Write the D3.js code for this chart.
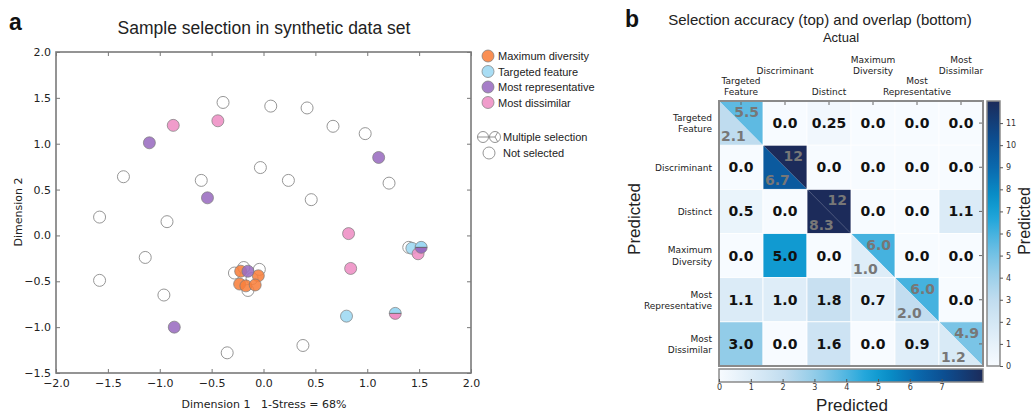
<!DOCTYPE html>
<meta charset="utf-8">
<style>
	body { margin: 0; background: #fff; }
	.vis { width: 1033px; height: 414px; }
	.sans { font-family: "Liberation Sans", Arial, sans-serif; }
	.dv { font-family: "DejaVu Sans", sans-serif; }
</style>

<div class="vis"></div>

<script src="https://d3js.org/d3.v7.min.js"></script>
<script>

	// ---- //
	// Data //
	// ---- //

	// panel a: scatter (Dimension 1, Dimension 2)
	const scatterTicksX = [-2, -1.5, -1, -0.5, 0, 0.5, 1, 1.5, 2];
	const scatterTicksY = [-1.5, -1, -0.5, 0, 0.5, 1, 1.5, 2];

	const notSelected = [
		[-0.39, 1.45], [0.07, 1.41], [0.42, 1.39], [0.67, 1.19], [0.98, 1.11],
		[1.21, 0.57], [-1.35, 0.64], [-0.60, 0.60], [-0.03, 0.74], [0.24, 0.60],
		[0.46, 0.39], [-1.58, 0.20], [-0.93, 0.15], [-1.14, -0.24], [-1.58, -0.49],
		[-0.96, -0.65], [-0.35, -1.28], [0.38, -1.20], [1.40, -0.13],
		[-0.28, -0.41], [-0.19, -0.35], [-0.04, -0.37], [-0.15, -0.60], [-0.11, -0.47]
	];
	const maxDiversity = [[-0.22, -0.39], [-0.05, -0.44], [-0.23, -0.53], [-0.17, -0.55], [-0.08, -0.54]];
	const targetedFeature = [[0.80, -0.88], [1.43, -0.14]];
	const mostRepresentative = [[-1.10, 1.01], [-0.54, 0.41], [1.11, 0.85], [-0.86, -1.00], [-0.15, -0.39]];
	const mostDissimilar = [[-0.87, 1.20], [-0.44, 1.25], [0.82, 0.02], [0.84, -0.36], [1.49, -0.20]];
	// points picked by two methods: [x, y, top half, bottom half]
	const multipleSelection = [[1.27, -0.85, "targeted", "dissimilar"], [1.52, -0.13, "targeted", "representative"]];

	const legendLabels = ["Maximum diversity", "Targeted feature", "Most representative", "Most dissimilar"];
	const legendKeys = ["diversity", "targeted", "representative", "dissimilar"];

	// panel b: heat map
	const classNames = [["Targeted", "Feature"], ["Discriminant"], ["Distinct"], ["Maximum", "Diversity"], ["Most", "Representative"], ["Most", "Dissimilar"]];
	const overlap = [
		[2.1, 0.0, 0.25, 0.0, 0.0, 0.0],
		[0.0, 6.7, 0.0, 0.0, 0.0, 0.0],
		[0.5, 0.0, 8.3, 0.0, 0.0, 1.1],
		[0.0, 5.0, 0.0, 1.0, 0.0, 0.0],
		[1.1, 1.0, 1.8, 0.7, 2.0, 0.0],
		[3.0, 0.0, 1.6, 0.0, 0.9, 1.2]
	];
	const accuracy = [5.5, 12, 12, 6.0, 6.0, 4.9];
	const overlapMax = 8.3;
	const accuracyMax = 12;
	const overlapTicks = [0, 1, 2, 3, 4, 5, 6, 7];
	const accuracyTicks = [0, 1, 2, 3, 4, 5, 6, 7, 8, 9, 10, 11];


	// ----- //
	// Setup //
	// ----- //

	const colors = {
		diversity: "#f8803c",
		targeted: "#9dd8f3",
		representative: "#9a6cc0",
		dissimilar: "#ee8ec4"
	};

	// white -> cyan blue -> navy colour map
	const cmap = d3.scaleLinear()
		.domain([0, 0.12, 0.25, 0.37, 0.48, 0.56, 0.63, 0.74, 0.86, 1])
		.range(["#f7fbff", "#deedf8", "#c0dcef", "#8fcbe8", "#52b6e1", "#1ea5da", "#0993cb", "#0a6cb0", "#0c4c8f", "#1c2b5a"])
		.clamp(true);

	let svg = d3.select(".vis").append("svg")
		.attr("width", 1033)
		.attr("height", 414);

	// ------- //
	// Panel a //
	// ------- //

	let x = d3.scaleLinear().domain([-2, 2]).range([56, 471]);
	let y = d3.scaleLinear().domain([-1.5, 2]).range([373, 52]);
	let fmt1 = d3.format(".1f");

	svg.append("text")
		.attr("class", "sans")
		.attr("x", 9).attr("y", 30)
		.style("font-size", "23px").style("font-weight", 700)
		.attr("fill", "#111")
		.text("a");

	svg.append("text")
		.attr("class", "sans")
		.attr("x", 264).attr("y", 34)
		.attr("text-anchor", "middle")
		.style("font-size", "17.5px")
		.attr("fill", "#222")
		.text("Sample selection in synthetic data set");

	function styleAxis(g) {
		g.select(".domain").remove();
		g.selectAll(".tick line").attr("stroke", "#777");
		g.selectAll(".tick text")
			.attr("fill", "#222")
			.style("font-family", "'DejaVu Sans', sans-serif")
			.style("font-size", "11px");
	}

	svg.append("g")
		.attr("transform", "translate(0,373)")
		.call(d3.axisBottom(x).tickValues(scatterTicksX).tickFormat(fmt1).tickSizeInner(-4).tickSizeOuter(0).tickPadding(6))
		.call(styleAxis);
	svg.append("g")
		.attr("transform", "translate(56,0)")
		.call(d3.axisLeft(y).tickValues(scatterTicksY).tickFormat(fmt1).tickSizeInner(-4).tickSizeOuter(0).tickPadding(5))
		.call(styleAxis);
	svg.append("g")
		.attr("transform", "translate(0,52)")
		.call(d3.axisTop(x).tickValues(scatterTicksX).tickFormat("").tickSizeInner(-4).tickSizeOuter(0))
		.call(styleAxis);
	svg.append("g")
		.attr("transform", "translate(471,0)")
		.call(d3.axisRight(y).tickValues(scatterTicksY).tickFormat("").tickSizeInner(-4).tickSizeOuter(0))
		.call(styleAxis);

	// frame
	svg.append("rect")
		.attr("x", x(-2)).attr("y", y(2))
		.attr("width", x(2) - x(-2)).attr("height", y(-1.5) - y(2))
		.attr("fill", "none").attr("stroke", "#7a7a7a").attr("stroke-width", 1.6);

	// axis labels
	svg.append("text")
		.attr("class", "dv")
		.attr("x", 264).attr("y", 408)
		.attr("text-anchor", "middle")
		.style("font-size", "11px").style("white-space", "pre")
		.attr("fill", "#222")
		.text("Dimension 1   1-Stress = 68%");
	svg.append("text")
		.attr("class", "dv")
		.attr("transform", "rotate(-90)")
		.attr("x", -212).attr("y", 22)
		.attr("text-anchor", "middle")
		.style("font-size", "11px")
		.attr("fill", "#222")
		.text("Dimension 2");

	const R = 6;
	let dots = svg.append("g");

	dots.selectAll(".ns").data(notSelected).enter().append("circle")
		.attr("cx", d => x(d[0])).attr("cy", d => y(d[1])).attr("r", R)
		.attr("fill", "#fff").attr("fill-opacity", 0.6)
		.attr("stroke", "#8a8a8a").attr("stroke-width", 0.9);

	function drawGroup(data, key) {
		dots.selectAll(".p-" + key).data(data).enter().append("circle")
			.attr("cx", d => x(d[0])).attr("cy", d => y(d[1])).attr("r", R)
			.attr("fill", colors[key]).attr("fill-opacity", 0.88)
			.attr("stroke", "#7a7a7a").attr("stroke-width", 0.7);
	}
	drawGroup(maxDiversity, "diversity");
	drawGroup(targetedFeature, "targeted");
	drawGroup(mostDissimilar, "dissimilar");
	drawGroup(mostRepresentative, "representative");

	let halfTop = d3.arc().innerRadius(0).outerRadius(R).startAngle(-Math.PI / 2).endAngle(Math.PI / 2);
	let halfBottom = d3.arc().innerRadius(0).outerRadius(R).startAngle(Math.PI / 2).endAngle(3 * Math.PI / 2);

	let multi = dots.selectAll(".multi").data(multipleSelection).enter().append("g")
		.attr("transform", d => "translate(" + x(d[0]) + "," + y(d[1]) + ")");
	multi.append("path").attr("d", halfTop()).attr("fill", d => colors[d[2]]);
	multi.append("path").attr("d", halfBottom()).attr("fill", d => colors[d[3]]);
	multi.append("line").attr("x1", -R).attr("x2", R).attr("stroke", "#555").attr("stroke-width", 0.8);
	multi.append("circle").attr("r", R).attr("fill", "none").attr("stroke", "#7a7a7a").attr("stroke-width", 0.7);

	// legend
	let legend = svg.append("g").attr("class", "sans");
	legendKeys.forEach((k, i) => {
		let ly = 56 + i * 15.5;
		legend.append("circle").attr("cx", 488).attr("cy", ly).attr("r", R)
			.attr("fill", colors[k]).attr("fill-opacity", 0.88)
			.attr("stroke", "#7a7a7a").attr("stroke-width", 0.7);
		legend.append("text").attr("x", 498).attr("y", ly + 4)
			.style("font-size", "11px").attr("fill", "#222")
			.text(legendLabels[i]);
	});
	// multiple selection icons
	let ic1 = legend.append("g").attr("transform", "translate(483,137)");
	ic1.append("circle").attr("r", 5.5).attr("fill", "#fff").attr("stroke", "#777").attr("stroke-width", 0.8);
	ic1.append("line").attr("x1", -5.5).attr("x2", 5.5).attr("stroke", "#777").attr("stroke-width", 0.8);
	let ic2 = legend.append("g").attr("transform", "translate(495,137)");
	ic2.append("circle").attr("r", 5.5).attr("fill", "#fff").attr("stroke", "#777").attr("stroke-width", 0.8);
	[-Math.PI / 2, Math.PI / 6, 5 * Math.PI / 6].forEach(a => {
		ic2.append("line").attr("x1", 0).attr("y1", 0)
			.attr("x2", 5.5 * Math.sin(a)).attr("y2", -5.5 * Math.cos(a))
			.attr("stroke", "#777").attr("stroke-width", 0.8);
	});
	legend.append("text").attr("x", 503).attr("y", 141)
		.style("font-size", "11px").attr("fill", "#222").text("Multiple selection");
	legend.append("circle").attr("cx", 489).attr("cy", 153).attr("r", R)
		.attr("fill", "#fff").attr("stroke", "#8a8a8a").attr("stroke-width", 0.9);
	legend.append("text").attr("x", 503).attr("y", 157)
		.style("font-size", "11px").attr("fill", "#222").text("Not selected");


	// ------- //
	// Panel b //
	// ------- //

	svg.append("text")
		.attr("class", "sans")
		.attr("x", 625).attr("y", 27)
		.style("font-size", "23px").style("font-weight", 700)
		.attr("fill", "#111")
		.text("b");
	svg.append("text")
		.attr("class", "sans")
		.attr("x", 820).attr("y", 25)
		.attr("text-anchor", "middle")
		.style("font-size", "15px")
		.attr("fill", "#222")
		.text("Selection accuracy (top) and overlap (bottom)");
	svg.append("text")
		.attr("class", "sans")
		.attr("x", 841).attr("y", 42)
		.attr("text-anchor", "middle")
		.style("font-size", "13px")
		.attr("fill", "#222")
		.text("Actual");

	let col = d3.scaleBand().domain(d3.range(6)).range([719, 983]);
	let row = d3.scaleBand().domain(d3.range(6)).range([101, 366]);
	let cw = col.bandwidth(), ch = row.bandwidth();
	let fmtCell = v => (Math.round(v * 10) === v * 10 ? v.toFixed(1) : v.toFixed(2));
	let fmtAcc = v => (v >= 10 ? String(v) : v.toFixed(1));

	let cells = [];
	overlap.forEach((r, i) => r.forEach((v, j) => cells.push({ i: i, j: j, v: v })));

	let heat = svg.append("g");
	let off = cells.filter(d => d.i !== d.j);
	let diag = cells.filter(d => d.i === d.j);

	heat.selectAll(".cell").data(off).enter().append("rect")
		.attr("x", d => col(d.j)).attr("y", d => row(d.i))
		.attr("width", cw).attr("height", ch)
		.attr("fill", d => cmap(d.v / overlapMax))
		.attr("stroke", "#fff").attr("stroke-width", 0.8);

	// diagonal: upper-right triangle = accuracy, lower-left = overlap
	heat.selectAll(".tri-acc").data(diag).enter().append("path")
		.attr("d", d => {
			let x0 = col(d.j), y0 = row(d.i);
			return "M" + x0 + "," + y0 + "L" + (x0 + cw) + "," + y0 + "L" + (x0 + cw) + "," + (y0 + ch) + "Z";
		})
		.attr("fill", d => cmap(accuracy[d.i] / accuracyMax));
	heat.selectAll(".tri-ov").data(diag).enter().append("path")
		.attr("d", d => {
			let x0 = col(d.j), y0 = row(d.i);
			return "M" + x0 + "," + y0 + "L" + x0 + "," + (y0 + ch) + "L" + (x0 + cw) + "," + (y0 + ch) + "Z";
		})
		.attr("fill", d => cmap(d.v / overlapMax));
	heat.selectAll(".diag-frame").data(diag).enter().append("rect")
		.attr("x", d => col(d.j)).attr("y", d => row(d.i))
		.attr("width", cw).attr("height", ch)
		.attr("fill", "none").attr("stroke", "#fff").attr("stroke-width", 0.8);

	heat.selectAll(".val").data(off).enter().append("text")
		.attr("class", "dv")
		.attr("x", d => col(d.j) + cw / 2).attr("y", d => row(d.i) + ch / 2)
		.attr("dy", "0.36em")
		.attr("text-anchor", "middle")
		.style("font-size", "14px").style("font-weight", 700)
		.attr("fill", "#111")
		.text(d => fmtCell(d.v));
	heat.selectAll(".val-acc").data(diag).enter().append("text")
		.attr("class", "dv")
		.attr("x", d => col(d.j) + cw - 4).attr("y", d => row(d.i) + 16)
		.attr("text-anchor", "end")
		.style("font-size", "14px").style("font-weight", 700)
		.attr("fill", "#777")
		.text(d => fmtAcc(accuracy[d.i]));
	heat.selectAll(".val-ov").data(diag).enter().append("text")
		.attr("class", "dv")
		.attr("x", d => col(d.j) + 2).attr("y", d => row(d.i) + ch - 4)
		.attr("text-anchor", "start")
		.style("font-size", "14px").style("font-weight", 700)
		.attr("fill", "#777")
		.text(d => fmtCell(d.v));

	// ticks on top and right edges
	col.domain().forEach(j => {
		heat.append("line").attr("x1", col(j) + cw / 2).attr("x2", col(j) + cw / 2)
			.attr("y1", 101).attr("y2", 105).attr("stroke", "#666");
	});
	row.domain().forEach(i => {
		heat.append("line").attr("x1", 983).attr("x2", 979)
			.attr("y1", row(i) + ch / 2).attr("y2", row(i) + ch / 2).attr("stroke", "#666");
	});

	heat.append("rect")
		.attr("x", 719).attr("y", 101).attr("width", 264).attr("height", 265)
		.attr("fill", "none").attr("stroke", "#8a8a8a").attr("stroke-width", 2);

	// column labels, staggered
	const lineGap = 11.5;
	classNames.forEach((lines, j) => {
		let base = (j % 2 === 0) ? 95 : 74;
		let t = svg.append("text").attr("class", "dv")
			.attr("text-anchor", "middle")
			.style("font-size", "9px").attr("fill", "#222");
		lines.forEach((s, k) => {
			t.append("tspan").attr("x", col(j) + cw / 2)
				.attr("y", base - (lines.length - 1 - k) * lineGap).text(s);
		});
	});
	// row labels
	classNames.forEach((lines, i) => {
		let c = row(i) + ch / 2;
		let t = svg.append("text").attr("class", "dv")
			.attr("text-anchor", "end")
			.style("font-size", "9px").attr("fill", "#222");
		lines.forEach((s, k) => {
			t.append("tspan").attr("x", 712)
				.attr("y", c + 3.5 + (k - (lines.length - 1) / 2) * lineGap).text(s);
		});
	});

	svg.append("text")
		.attr("class", "sans")
		.attr("transform", "rotate(-90)")
		.attr("x", -219).attr("y", 640)
		.attr("text-anchor", "middle")
		.style("font-size", "17px").attr("fill", "#222")
		.text("Predicted");

	// colour bars
	let defs = svg.append("defs");
	let gH = defs.append("linearGradient").attr("id", "gradH").attr("x1", 0).attr("x2", 1).attr("y1", 0).attr("y2", 0);
	let gV = defs.append("linearGradient").attr("id", "gradV").attr("x1", 0).attr("x2", 0).attr("y1", 1).attr("y2", 0);
	d3.range(0, 1.0001, 0.05).forEach(t => {
		gH.append("stop").attr("offset", t).attr("stop-color", cmap(t));
		gV.append("stop").attr("offset", t).attr("stop-color", cmap(t));
	});

	// bottom bar: overlap
	let xb = d3.scaleLinear().domain([0, overlapMax]).range([719, 983]);
	svg.append("rect").attr("x", 719).attr("y", 369).attr("width", 264).attr("height", 13)
		.attr("fill", "url(#gradH)").attr("stroke", "#8a8a8a").attr("stroke-width", 1.5);
	let axb = svg.append("g").attr("transform", "translate(0,382)")
		.call(d3.axisBottom(xb).tickValues(overlapTicks).tickFormat(d3.format("d")).tickSizeInner(-3).tickSizeOuter(0).tickPadding(2));
	axb.select(".domain").remove();
	axb.selectAll(".tick line").attr("stroke", "#555");
	axb.selectAll(".tick text").attr("fill", "#333").style("font-family", "'DejaVu Sans', sans-serif").style("font-size", "8px");

	svg.append("text")
		.attr("class", "sans")
		.attr("x", 852).attr("y", 411)
		.attr("text-anchor", "middle")
		.style("font-size", "17px").attr("fill", "#222")
		.text("Predicted");

	// right bar: accuracy
	let yb = d3.scaleLinear().domain([0, accuracyMax]).range([366, 101]);
	svg.append("rect").attr("x", 987).attr("y", 101).attr("width", 13).attr("height", 265)
		.attr("fill", "url(#gradV)").attr("stroke", "#8a8a8a").attr("stroke-width", 1.5);
	let ayb = svg.append("g").attr("transform", "translate(1000,0)")
		.call(d3.axisRight(yb).tickValues(accuracyTicks).tickFormat(d3.format("d")).tickSizeInner(3).tickSizeOuter(0).tickPadding(3));
	ayb.select(".domain").remove();
	ayb.selectAll(".tick line").attr("stroke", "#555");
	ayb.selectAll(".tick text").attr("fill", "#333").style("font-family", "'DejaVu Sans', sans-serif").style("font-size", "8px");

	svg.append("text")
		.attr("class", "sans")
		.attr("transform", "rotate(-90)")
		.attr("x", -221).attr("y", 1030)
		.attr("text-anchor", "middle")
		.style("font-size", "16px").attr("fill", "#222")
		.text("Predicted");

</script>
